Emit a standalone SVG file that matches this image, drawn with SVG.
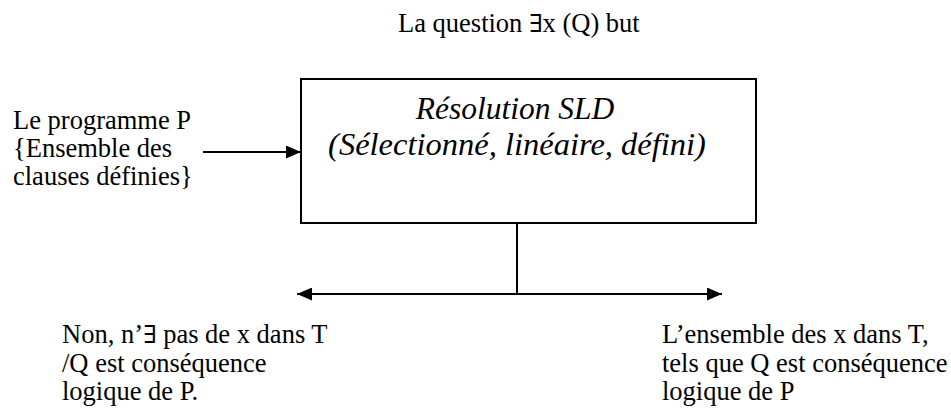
<svg xmlns="http://www.w3.org/2000/svg" width="951" height="412" viewBox="0 0 951 412">
  <style>
    .t { font-family: "Liberation Serif", "Times New Roman", "DejaVu Serif", serif; font-size: 26.5px; fill: #000; }
    .ti { font-family: "Liberation Serif", "Times New Roman", "DejaVu Serif", serif; font-size: 31.5px; font-style: italic; fill: #000; }
    .sym { font-family: "DejaVu Serif", serif; font-size: 25px; }
    .box { fill: #fff; stroke: #000; stroke-width: 2; }
    .line { fill: none; stroke: #000; stroke-width: 2; }
  </style>
  <defs>
    <marker id="arrow" viewBox="0 0 15 13" refX="15" refY="6.5" markerWidth="15" markerHeight="13" markerUnits="userSpaceOnUse" orient="auto-start-reverse">
      <path d="M0,0 L15,6.5 L0,13 Z" fill="#000"/>
    </marker>
  </defs>
  <rect width="951" height="412" fill="#fff"/>

  <g id="question">
    <text class="t" x="398" y="32">La question <tspan class="sym">∃</tspan>x (Q) but</text>
  </g>

  <g id="programme">
    <text class="t" x="13" y="129">Le programme P</text>
    <text class="t" x="13" y="157">{Ensemble des</text>
    <text class="t" x="13" y="185">clauses définies}</text>
  </g>

  <g id="resolution">
    <rect class="box" x="301" y="79" width="455" height="144"/>
    <text class="ti" x="515" y="119" text-anchor="middle">Résolution SLD</text>
    <text class="ti" x="517" y="155" text-anchor="middle" style="font-size:32.5px">(Sélectionné, linéaire, défini)</text>
  </g>

  <g id="non">
    <text class="t" x="62" y="343">Non,  n’<tspan class="sym">∃</tspan> pas de x dans T</text>
    <text class="t" x="62" y="372">/Q est conséquence</text>
    <text class="t" x="62" y="400">logique de P.</text>
  </g>

  <g id="ensemble">
    <text class="t" x="662" y="343">L’ensemble des x dans T,</text>
    <text class="t" x="662" y="372">tels que Q est conséquence</text>
    <text class="t" x="662" y="400">logique de P</text>
  </g>

  <g id="connectors">
    <line class="line" x1="203" y1="152" x2="301" y2="152" marker-end="url(#arrow)"/>
    <line class="line" x1="517" y1="223" x2="517" y2="294" stroke-width="1.5"/>
    <line class="line" x1="297" y1="294" x2="722" y2="294" marker-start="url(#arrow)" marker-end="url(#arrow)"/>
  </g>
</svg>
